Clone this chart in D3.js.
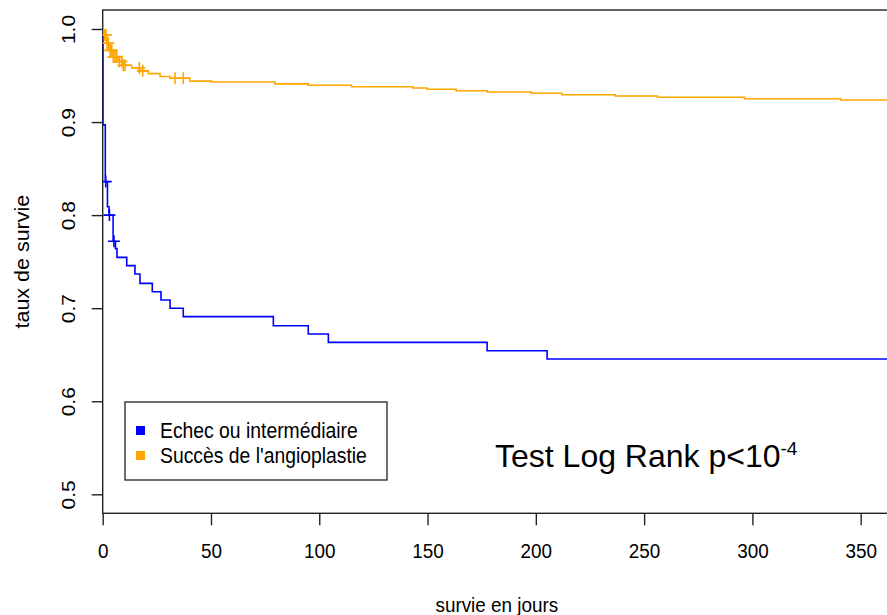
<!DOCTYPE html>
<meta charset="utf-8">
<style>
  body { margin: 0; background: white; }
  svg { font-family: "Liberation Sans", Arial, sans-serif; }
  .axis path, .axis line { stroke: #222; stroke-width: 1.4; }
  .axis text { fill: #000; font-size: 21px; }
  .frame { fill: none; stroke: #222; stroke-width: 1.4; }
  .km { fill: none; stroke-width: 1.6; }
  .legend-box { fill: white; stroke: #222; stroke-width: 1.3; }
</style>
<body>
<script src="https://d3js.org/d3.v7.min.js"></script>
<script>

// survival steps (time in days, survival rate)
var blueTimes = [0, 0.1, 1.2, 2.2, 2.9, 4.8, 5.9, 6.6, 11.1, 14.9, 17.2, 22.9, 26.9, 31.1, 37.2, 78.8, 94.9, 104.2, 177.5, 205.2];
var blueSurv  = [1.0, 0.897, 0.836, 0.809, 0.800, 0.772, 0.764, 0.7546, 0.7457, 0.7367, 0.7267, 0.7177, 0.7088, 0.6999, 0.6909, 0.6812, 0.6722, 0.6633, 0.6543, 0.6454];
var blueCensor = [1.4, 3.1, 5.2];

var orangeTimes = [0, 0.3, 1.8, 3.4, 4.9, 7.2, 9.5, 13.4, 17.2, 21.1, 26.5, 31.1, 40.3, 50.3, 79.6, 94.9, 114.9, 143.2, 149.8, 163.2, 177.5, 198.0, 212.0, 236.7, 256.2, 296.4, 340.7];
var orangeSurv  = [1.0, 0.9935, 0.985, 0.977, 0.970, 0.965, 0.961, 0.958, 0.955, 0.952, 0.949, 0.947, 0.944, 0.943, 0.941, 0.9395, 0.938, 0.9366, 0.9352, 0.9337, 0.9323, 0.9309, 0.9294, 0.928, 0.9266, 0.9251, 0.9237];
var orangeCensor = [0.8, 1.5, 2.0, 2.6, 3.4, 4.2, 4.9, 5.7, 6.5, 7.7, 8.8, 9.5, 10.3, 16.9, 18.5, 33.4, 37.2];

var xTicks = [0, 50, 100, 150, 200, 250, 300, 350];
var yTicks = [0.5, 0.6, 0.7, 0.8, 0.9, 1.0];
var groups = ["Echec ou intermédiaire", "Succès de l'angioplastie"];
var groupColors = ["#0000ff", "#ffa500"];

var margin = {top: 10, left: 102.7};
var w = 788.3, h = 503.3;
var squeeze = 0.9; // the picture text is a bit narrow

var xscale = d3.scaleLinear().domain([0, 364]).range([0, w]);
var yscale = d3.scaleLinear().domain([0.4796, 1.0204]).range([h, 0]);

var svg = d3.select("body").append("svg")
    .attr("width", 887)
    .attr("height", 615);

var chart = svg.append("g")
    .attr("transform", "translate(" + margin.left + "," + margin.top + ")");

chart.append("clipPath").attr("id", "clip")
  .append("rect").attr("width", w).attr("height", h);

// x axis
var xaxis = chart.append("g")
    .attr("class", "axis")
    .attr("transform", "translate(0," + h + ")")
    .call(d3.axisBottom(xscale).tickValues(xTicks).tickSize(12).tickPadding(18).tickFormat(d3.format("d")));
xaxis.select(".domain").remove();
xaxis.selectAll("text").attr("transform", "scale(" + squeeze + ",1)");

// y axis, labels turned like R does
var yaxis = chart.append("g")
    .attr("class", "axis")
    .call(d3.axisLeft(yscale).tickValues(yTicks).tickSize(11).tickFormat(d3.format(".1f")));
yaxis.select(".domain").remove();
yaxis.selectAll("text")
    .attr("x", null)
    .attr("dy", "0.35em")
    .attr("text-anchor", "middle")
    .attr("transform", "translate(-34.7,0) rotate(-90) scale(1," + squeeze + ")");

// frame
chart.append("rect")
    .attr("class", "frame")
    .attr("width", w)
    .attr("height", h);

// axis titles
svg.append("text")
    .attr("transform", "translate(22," + (margin.top + h / 2) + ") rotate(-90) scale(1," + squeeze + ")")
    .attr("text-anchor", "middle")
    .attr("dy", "0.35em")
    .style("font-size", "21.5px")
    .text("taux de survie");

svg.append("text")
    .attr("transform", "translate(" + (margin.left + w / 2) + ",612) scale(" + squeeze + ",1)")
    .attr("text-anchor", "middle")
    .style("font-size", "21px")
    .text("survie en jours");

// km curves
var line = d3.line()
    .x(function(d) { return xscale(d[0]); })
    .y(function(d) { return yscale(d[1]); })
    .curve(d3.curveStepAfter);

function stepValue(times, surv, t) {
  var i = d3.bisectRight(times, t) - 1;
  return surv[Math.max(i, 0)];
}

function drawCurve(times, surv, censor, color) {
  var pts = times.map(function(t, i) { return [t, surv[i]]; });
  pts.push([xscale.domain()[1], surv[surv.length - 1]]);
  var g = chart.append("g").attr("clip-path", "url(#clip)");
  g.append("path")
    .attr("class", "km")
    .attr("stroke", color)
    .attr("d", line(pts));
  g.selectAll(".cens")
    .data(censor)
    .enter().append("path")
    .attr("class", "km")
    .attr("stroke", color)
    .attr("d", function(t) {
      var cx = xscale(t), cy = yscale(stepValue(times, surv, t));
      return "M" + (cx - 6) + "," + cy + "H" + (cx + 6) + "M" + cx + "," + (cy - 6) + "V" + (cy + 6);
    });
}

drawCurve(blueTimes, blueSurv, blueCensor, groupColors[0]);
drawCurve(orangeTimes, orangeSurv, orangeCensor, groupColors[1]);

// legend
var legend = svg.append("g").attr("transform", "translate(125,402)");
legend.append("rect")
    .attr("class", "legend-box")
    .attr("width", 262)
    .attr("height", 78);
groups.forEach(function(name, i) {
  legend.append("rect")
    .attr("x", 11)
    .attr("y", 24 + i * 25)
    .attr("width", 9)
    .attr("height", 9)
    .attr("fill", groupColors[i]);
  legend.append("text")
    .attr("transform", "translate(35," + (36 + i * 25) + ") scale(" + squeeze + ",1)")
    .style("font-size", "21.5px")
    .text(name);
});

// test annotation
var note = svg.append("text")
    .attr("x", 495)
    .attr("y", 467)
    .style("font-size", "32px");
note.append("tspan").text("Test Log Rank p<10");
note.append("tspan").attr("dy", -12).style("font-size", "19px").text("-4");

</script>
</body>
